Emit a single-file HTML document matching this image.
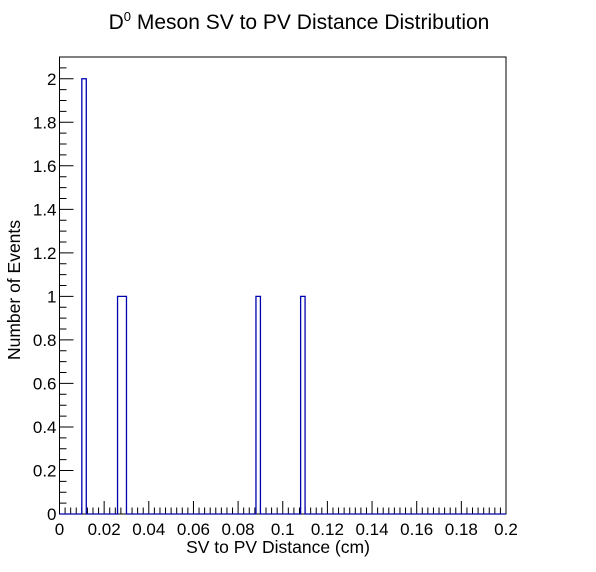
<!DOCTYPE html>
<html><head><meta charset="utf-8"><style>
body{margin:0;background:#fff;}
svg{display:block;font-family:"Liberation Sans",sans-serif;}
</style></head><body>
<svg id="chart" width="596" height="572">
<text x="299" y="29" text-anchor="middle" font-size="21">D<tspan dy="-8" font-size="13">0</tspan><tspan dy="8"> Meson SV to PV Distance Distribution</tspan></text>
<g id="axes"></g>
<path id="hist" fill="none" stroke="#0000b0" stroke-width="1.3"></path>
<text x="278" y="553" text-anchor="middle" font-size="17.5">SV to PV Distance (cm)</text>
<text transform="translate(20,290) rotate(-90)" text-anchor="middle" font-size="17.5">Number of Events</text>
</svg>
<script>
const binCount = 100;
const xMin = 0, xMax = 0.2;
const filledBins = [5, 13, 14, 44, 54];
const filledCounts = [2, 1, 1, 1, 1];
const xTickLabels = ["0","0.02","0.04","0.06","0.08","0.1","0.12","0.14","0.16","0.18","0.2"];
const yTickLabels = ["0","0.2","0.4","0.6","0.8","1","1.2","1.4","1.6","1.8","2"];
const L=59.5,R=506,T=57,B=514,yMax=2.1;
const xs=v=>L+(v-xMin)/(xMax-xMin)*(R-L);
const ys=v=>B-v/yMax*(B-T);
const NS="http://www.w3.org/2000/svg";
const ax=document.getElementById('axes');
function mk(t,a,p){const e=document.createElementNS(NS,t);for(const k in a)e.setAttribute(k,a[k]);(p||ax).appendChild(e);return e;}
const fr=mk('rect',{x:L,y:T,width:R-L,height:B-T,fill:'none',stroke:'#000','stroke-width':1});


let d='';
for(let i=0;i<=80;i++){const v=i*0.0025;const x=xs(v);const len=i%8==0?13:6.5;d+=`M${x},${B}V${B-len}`;}
for(let i=0;i<=42;i++){const v=i*0.05;const y=ys(v);const len=i%4==0?14:7;d+=`M${L},${y}H${L+len}`;}
const tk=mk('path',{d:d,stroke:'#000','stroke-width':1,fill:'none'});


xTickLabels.forEach((s,i)=>{const t=mk('text',{x:xs(i*0.02),y:B+21,'text-anchor':'middle','font-size':17});t.textContent=s;

});
yTickLabels.forEach((s,i)=>{const t=mk('text',{x:L-3,y:ys(i*0.2)+6,'text-anchor':'end','font-size':17});t.textContent=s;

});
const counts=new Array(binCount).fill(0);
filledBins.forEach((b,i)=>counts[b]=filledCounts[i]);
const w=(xMax-xMin)/binCount;
let p=`M${xs(xMin)},${ys(0)}`;
for(let i=0;i<binCount;i++){p+=`V${ys(counts[i])}H${xs(xMin+(i+1)*w)}`;}
p+=`V${ys(0)}`;
document.getElementById('hist').setAttribute('d',p);
</script>
</body></html>
